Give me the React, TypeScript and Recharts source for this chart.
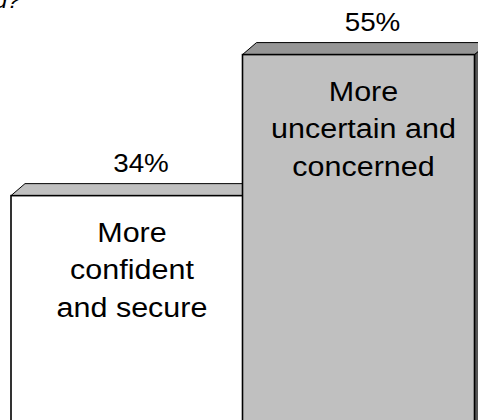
import React from "react";
import { Bar, BarChart, LabelList, XAxis, YAxis } from "recharts";

const categories = ["confident", "uncertain"];
const shares = [34, 55];
const captions = [
  ["More", "confident", "and secure"],
  ["More", "uncertain and", "concerned"],
];
const frontColors = ["#ffffff", "#c0c0c0"];
const topColors = ["#c0c0c0", "#969696"];
const sideColors = ["#808080", "#555555"];

const data = categories.map((name, i) => ({
  name,
  value: shares[i],
  caption: captions[i],
}));

// fake 3D extrusion of each bar
const DX = 14;
const DY = 12;
const FONT = "'Liberation Sans', Arial, sans-serif";

function Box3D(props: any) {
  const { x, y, width, height, index } = props;
  const right = x + width;
  const bottom = y + height;
  return (
    <g stroke="#000" strokeLinejoin="miter">
      <polygon
        points={`${right},${y} ${right + DX},${y - DY} ${right + DX},${bottom - DY} ${right},${bottom}`}
        fill={sideColors[index]}
        strokeWidth={1}
      />
      <polygon
        points={`${x},${y} ${x + DX},${y - DY} ${right + DX},${y - DY} ${right},${y}`}
        fill={topColors[index]}
        strokeWidth={1}
      />
      <rect x={x} y={y} width={width} height={height} fill={frontColors[index]} strokeWidth={1.6} />
    </g>
  );
}

// text is drawn slightly wider than tall, like the stretched original export
function Stretched({ cx, y, size, sx, children, italic, anchor = "middle" }: any) {
  return (
    <text
      x={cx}
      y={y}
      textAnchor={anchor}
      fontFamily={FONT}
      fontSize={size}
      fontStyle={italic ? "italic" : "normal"}
      fill="#000"
      transform={`translate(${cx} 0) scale(${sx} 1) translate(${-cx} 0)`}
    >
      {children}
    </text>
  );
}

function PercentLabel(props: any) {
  const { x, y, width, value } = props;
  return (
    <Stretched cx={x + width / 2 + 14} y={y - 24} size={26} sx={1.07}>
      {`${value}%`}
    </Stretched>
  );
}

function CaptionLabel(props: any) {
  const { x, y, width, index } = props;
  const lines: string[] = captions[index] ?? [];
  return (
    <g>
      {lines.map((line, i) => (
        <Stretched key={i} cx={x + width / 2 + 5} y={y + 46 + i * 37.5} size={27} sx={1.13}>
          {line}
        </Stretched>
      ))}
    </g>
  );
}

export default function App() {
  return (
    <div style={{ position: "absolute", left: 0, top: 0, width: 478, height: 420, overflow: "hidden", background: "#fff" }}>
      <svg width={478} height={20} style={{ position: "absolute", left: 0, top: 0 }}>
        <Stretched cx={20} y={8} size={22} sx={1.05} italic anchor="end">
          d?
        </Stretched>
      </svg>
      <BarChart
        width={478}
        height={430}
        data={data}
        margin={{ top: 21, right: 4, bottom: 6, left: 11 }}
        barCategoryGap={0}
        barGap={0}
      >
        <XAxis dataKey="name" hide />
        <YAxis domain={[0, 60]} hide />
        <Bar dataKey="value" shape={<Box3D />} isAnimationActive={false}>
          <LabelList dataKey="value" content={<PercentLabel />} />
          <LabelList dataKey="name" content={<CaptionLabel />} />
        </Bar>
      </BarChart>
    </div>
  );
}
